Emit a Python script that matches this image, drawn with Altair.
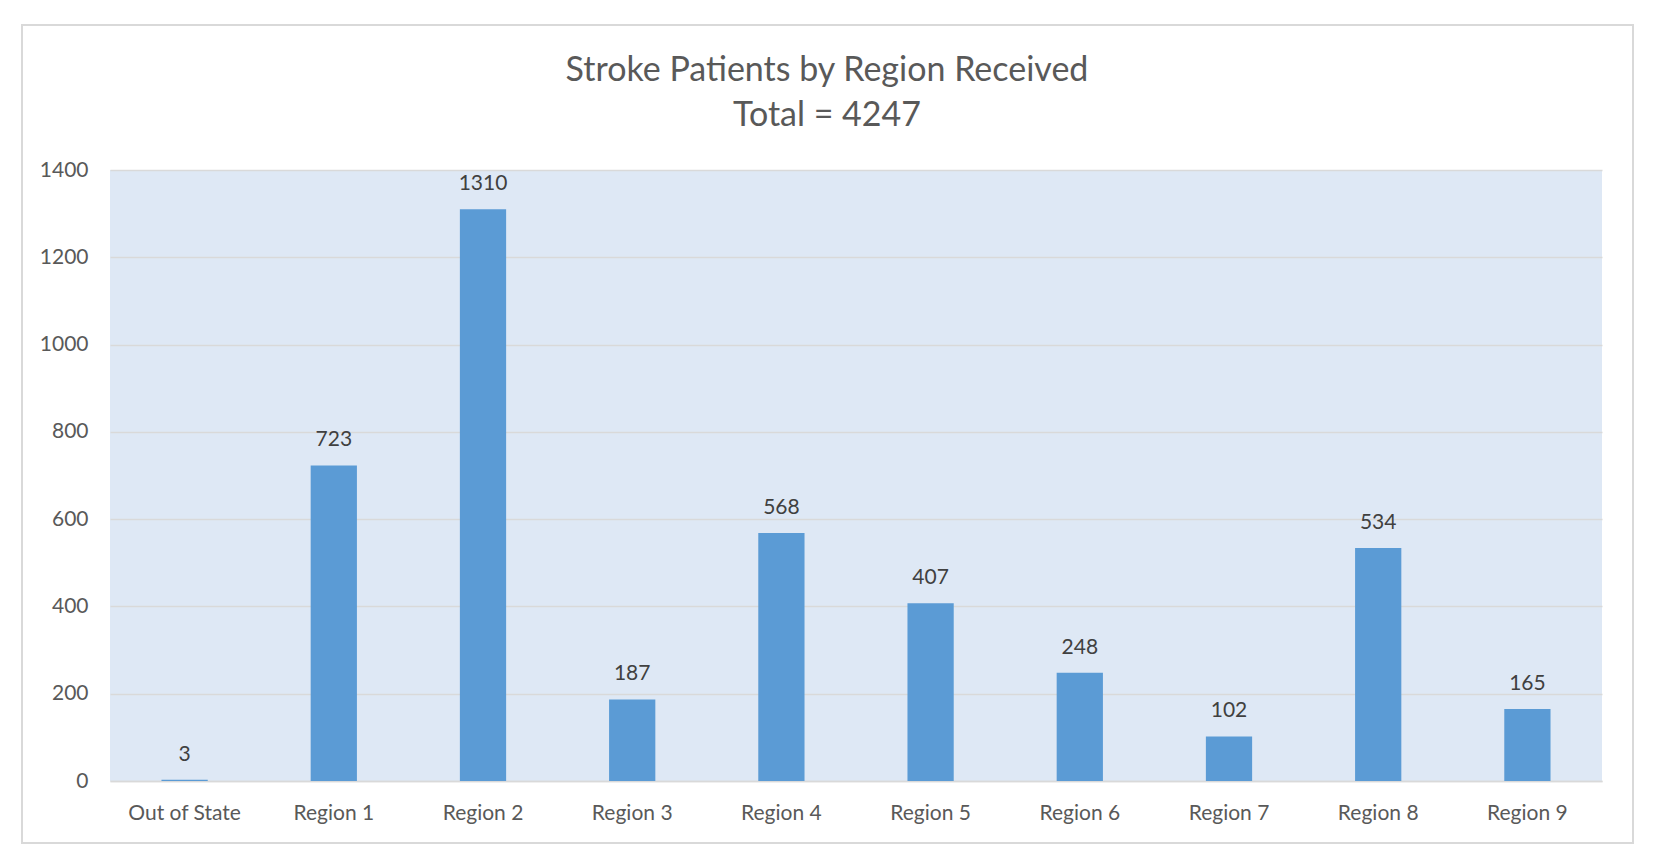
import altair as alt
import pandas as pd

regions = ["Out of State", "Region 1", "Region 2", "Region 3", "Region 4",
           "Region 5", "Region 6", "Region 7", "Region 8", "Region 9"]
patients = [3, 723, 1310, 187, 568, 407, 248, 102, 534, 165]
y_ticks = [0, 200, 400, 600, 800, 1000, 1200, 1400]
title_lines = ["Stroke Patients by Region Received", "Total = 4247"]

df = pd.DataFrame({"region": regions, "patients": patients})

FONT = "Lato"
W, H = 1492, 611

x_enc = alt.X("region:N", sort=regions, title=None,
              scale=alt.Scale(paddingInner=0.69, paddingOuter=0.345),
              axis=alt.Axis(labelAngle=0, ticks=False, domain=True,
                            domainColor="#d9d9d9", domainWidth=1.5,
                            labelFont=FONT, labelFontSize=21,
                            labelColor="#595959", labelPadding=21))
y_enc = alt.Y("patients:Q", title=None,
              scale=alt.Scale(domain=[0, 1400], nice=False),
              axis=alt.Axis(values=y_ticks, format="d", ticks=False, domain=False,
                            grid=True, gridColor="#d9d9d9", gridWidth=1.5,
                            labelFont=FONT, labelFontSize=21,
                            labelColor="#595959", labelPadding=22))

bars = alt.Chart(df).mark_bar(color="#5b9bd5").encode(x=x_enc, y=y_enc)

labels = alt.Chart(df).mark_text(
    baseline="bottom", dy=-15, font=FONT, fontSize=21, color="#404040"
).encode(x=alt.X("region:N", sort=regions), y="patients:Q", text="patients:Q")

frame = alt.Chart(alt.Data(values=[{"a": 1}])).mark_rect(
    fill=None, stroke="#d9d9d9", strokeWidth=2
).encode(x=alt.value(-88), x2=alt.value(1523), y=alt.value(-145), y2=alt.value(673))

title_df = pd.DataFrame({"line": title_lines, "ypos": [-99, -54]})
title = alt.Chart(title_df).mark_text(
    font=FONT, fontSize=34, color="#595959", baseline="middle", align="center"
).encode(x=alt.value(717), y=alt.Y("ypos:Q", scale=None), text="line:N")

chart = alt.layer(bars, labels, frame, title).properties(
    width=W, height=H,
    autosize=alt.AutoSizeParams(type="none"),
    padding={"left": 102, "top": 162, "right": 40, "bottom": 70},
).configure_view(fill="#dee8f5", stroke=None)

chart.save("out.html", embed_options={"renderer": "svg", "actions": False})
